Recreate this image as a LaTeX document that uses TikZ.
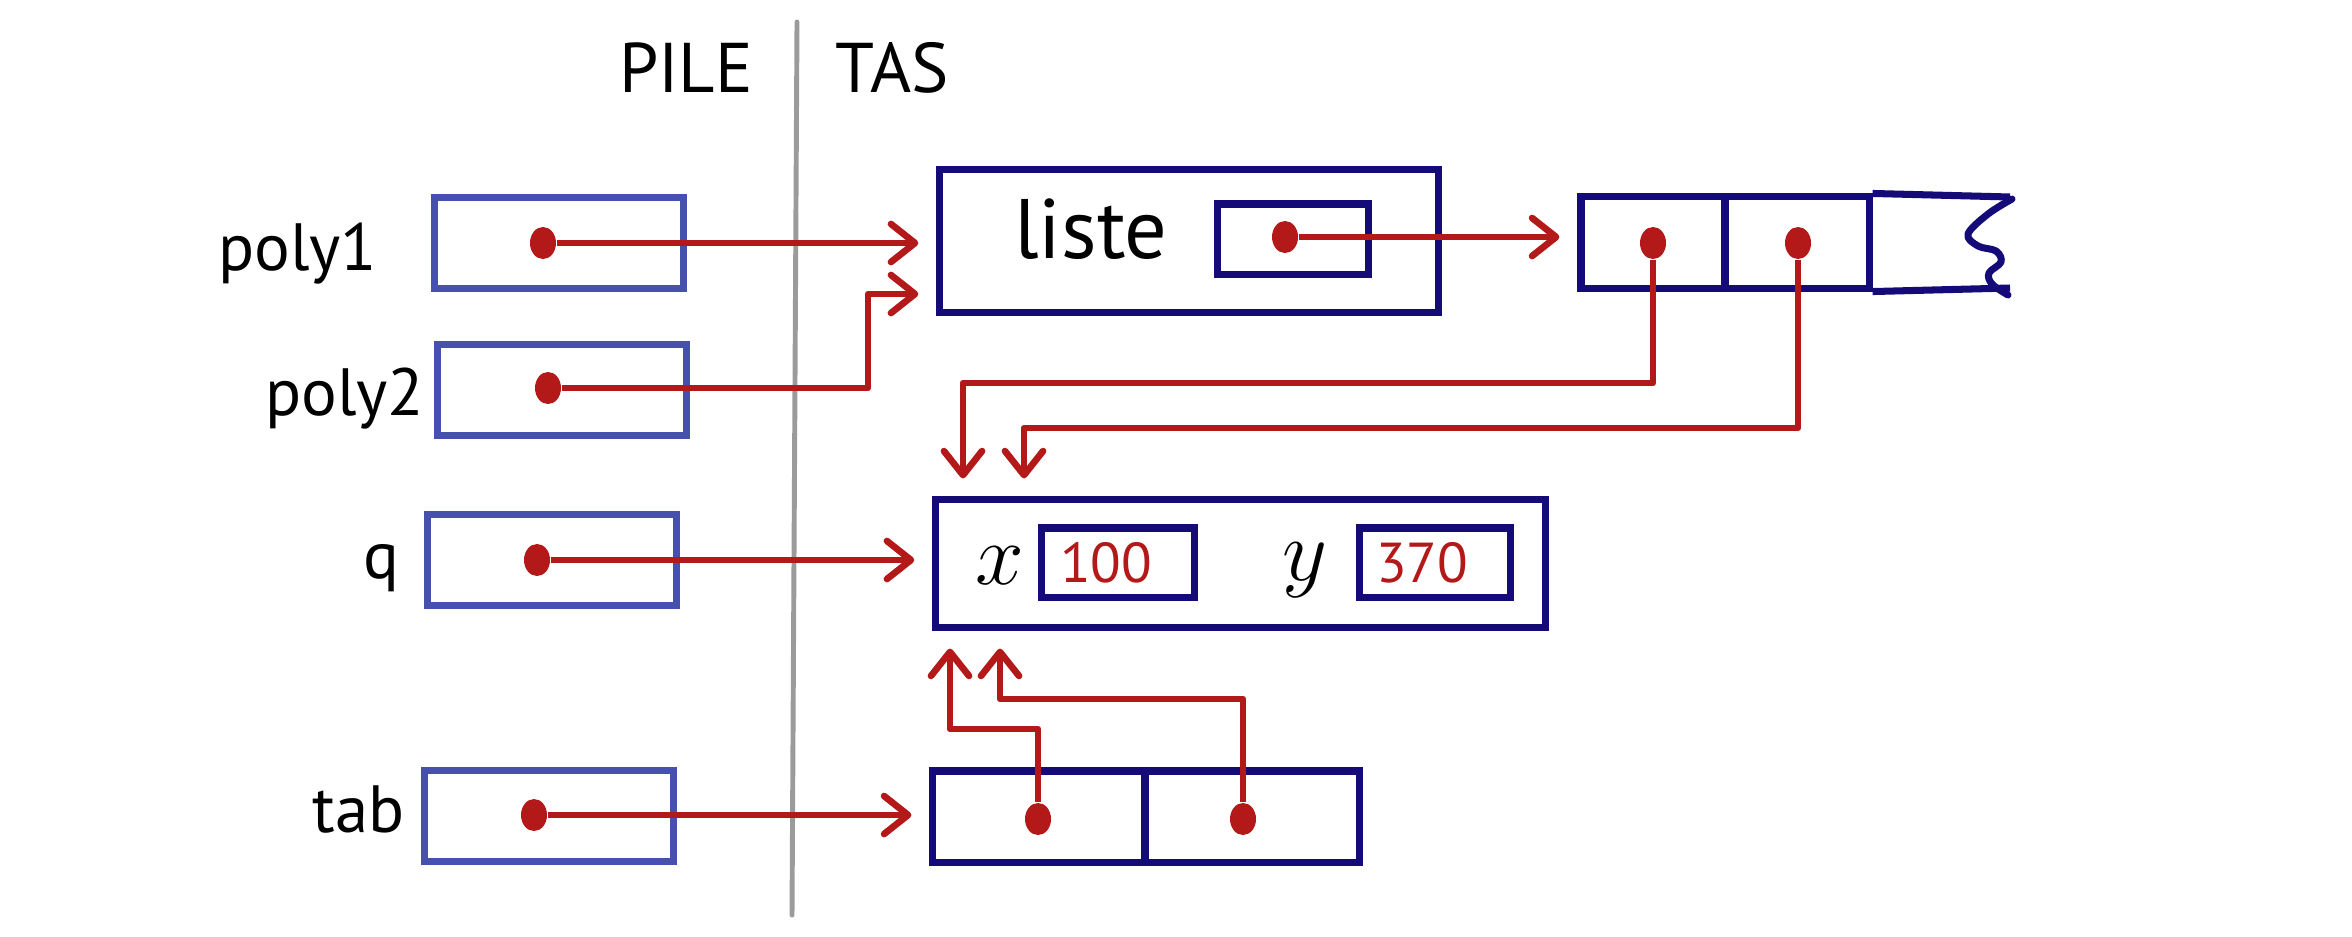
\documentclass[tikz,border=0pt]{standalone}
\usepackage{fontspec}
\setmainfont{PT Sans}
\usetikzlibrary{arrows.meta,shapes.geometric}
\definecolor{stackblue}{RGB}{70,80,175}
\definecolor{navy}{RGB}{20,10,120}
\definecolor{ptred}{RGB}{180,25,25}
\definecolor{sepgray}{RGB}{155,155,155}
\tikzset{
  sbox/.style={draw=stackblue, line width=2pt, minimum width=2.48cm, minimum height=0.91cm, inner sep=0pt},
  hbox/.style={draw=navy, line width=2pt, inner sep=0pt},
  ptdot/.style={ellipse, fill=ptred, minimum width=0.26cm, minimum height=0.32cm, inner sep=0pt},
  ptr/.style={draw=ptred, line width=1.9pt, line join=round, shorten >=0.18cm, -{Straight Barb[length=2.4mm,width=3.8mm,line width=1.9pt,line join=round,line cap=round]}},
  lab/.style={font=\fontsize{19}{22}\selectfont, anchor=base east, inner sep=0pt},
  head/.style={font=\fontsize{20}{24}\selectfont, anchor=base, inner sep=0pt},
  val/.style={font=\fontsize{16}{19}\selectfont, text=ptred, anchor=base, inner sep=0pt},
}
\begin{document}
\begin{tikzpicture}[x=0.01cm,y=-0.01cm]
\useasboundingbox (0,0) rectangle (2352,936);
% separator and headings
\coordinate (gtop) at (797,22);
\coordinate (gbot) at (792,915);
\draw[sepgray, line width=1.4pt, line cap=round] (gtop) -- (gbot);
\node[head] (pile) at (686,92) {PILE};
\node[head] (tas) at (892,92) {TAS};
% stack
\node[sbox] (s1) at (559,243) {};
\node[sbox] (s2) at (562,390) {};
\node[sbox] (s3) at (552,560) {};
\node[sbox] (s4) at (549,816) {};
\node[lab] (l1) at (378,270) {poly1};
\node[lab] (l2) at (425,415) {poly2};
\node[lab] (l3) at (400,578) {q};
\node[lab] (l4) at (405,832) {tab};
\node[ptdot] (d1) at (543,243) {};
\node[ptdot] (d2) at (548,388) {};
\node[ptdot] (d3) at (537,560) {};
\node[ptdot] (d4) at (534,815) {};
% heap: liste object
\node[hbox, minimum width=4.98cm, minimum height=1.42cm] (H1) at (1189,241) {};
\node[font=\fontsize{24}{28}\selectfont, anchor=base, inner sep=0pt] (lt) at (1091,258) {liste};
\node[hbox, minimum width=1.50cm, minimum height=0.70cm] (L) at (1293,239) {};
\node[ptdot] (ld) at (1285,237) {};
% heap: array of points (open end)
\node[hbox, minimum width=1.44cm, minimum height=0.91cm] (A1) at (1653,242.5) {};
\node[hbox, minimum width=1.44cm, minimum height=0.91cm] (A2) at (1797,242.5) {};
\coordinate (a3top) at (2010,197);
\coordinate (a3bot) at (2010,288);
\draw[navy, line width=2pt] (A2.north east) -- (a3top);
\draw[navy, line width=2pt] (A2.south east) -- (a3bot);
\draw[navy, line width=2pt, line cap=round, line join=round] plot[smooth, tension=0.6] coordinates {(2012,199) (1988,214) (1968,234) (1978,246) (1996,251) (2001,262) (1989,273) (1992,284) (2008,295)};
\node[ptdot] (ad1) at (1653,243) {};
\node[ptdot] (ad2) at (1798,243) {};
% heap: point object
\node[hbox, minimum width=6.09cm, minimum height=1.27cm] (P) at (1240.5,563.5) {};
\node[font=\fontsize{24}{28}\selectfont, anchor=base, inner sep=0pt] (xl) at (1000,584) {$x$};
\node[hbox, minimum width=1.52cm, minimum height=0.69cm] (X) at (1118,562.5) {};
\node[val] (xv) at (1106,582) {100};
\node[font=\fontsize{24}{28}\selectfont, anchor=base, inner sep=0pt] (yl) at (1305,580) {$y$};
\node[hbox, minimum width=1.50cm, minimum height=0.69cm] (Y) at (1435,562.5) {};
\node[val] (yv) at (1422,582) {370};
% heap: tab array
\node[hbox, minimum width=2.12cm, minimum height=0.91cm] (T1) at (1039,816.5) {};
\node[hbox, minimum width=2.14cm, minimum height=0.91cm] (T2) at (1252,816.5) {};
\node[ptdot] (td1) at (1038,819) {};
\node[ptdot] (td2) at (1243,819) {};
% connectors
\coordinate (j2) at (868,294);
\coordinate (j6) at (963,383);
\coordinate (j7) at (1024,428);
\coordinate (j8) at (950,729);
\coordinate (j9) at (1000,699);
\draw[ptr] (d1) -- (d1 -| H1.west);
\draw[ptr] (d2) -| (j2) -- (j2 -| H1.west);
\draw[ptr] (d3) -- (d3 -| P.west);
\draw[ptr] (d4) -- (d4 -| T1.west);
\draw[ptr] (ld) -- (ld -| A1.west);
\draw[ptr] (ad1) |- (j6) -- (j6 |- P.north);
\draw[ptr] (ad2) |- (j7) -- (j7 |- P.north);
\draw[ptr] (td1) |- (j8) -- (j8 |- P.south);
\draw[ptr] (td2) |- (j9) -- (j9 |- P.south);
\end{tikzpicture}
\end{document}
